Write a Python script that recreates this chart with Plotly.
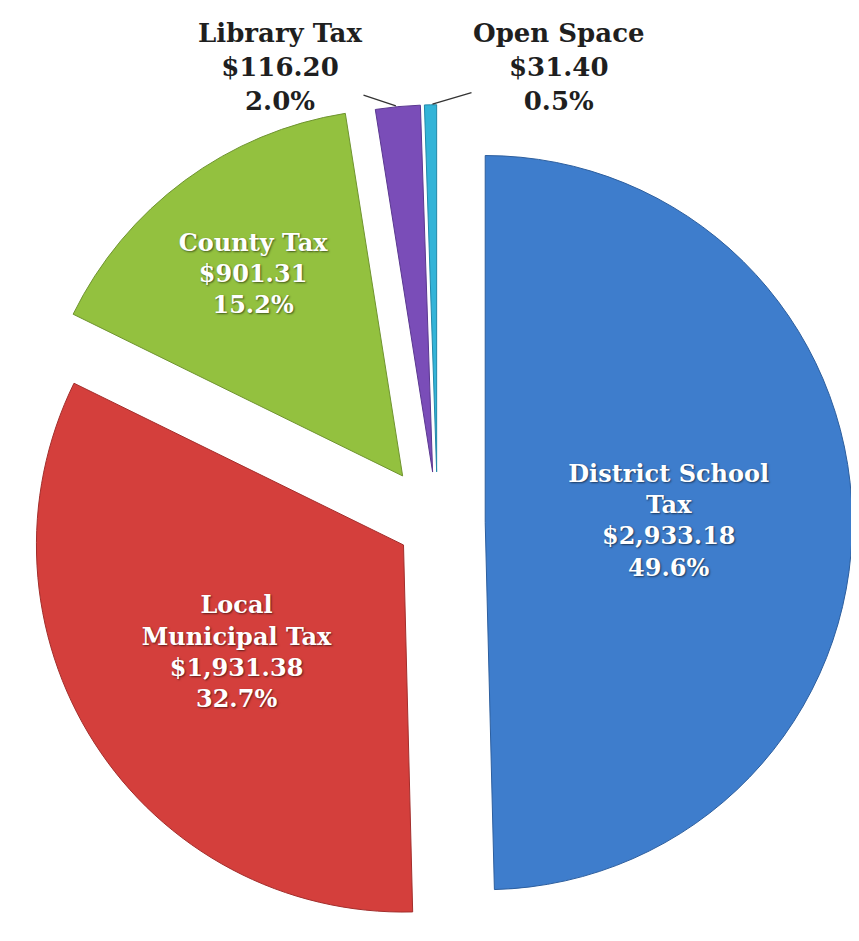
import math
import plotly.graph_objects as go

# ---- data ----
labels = ["District School Tax", "Local Municipal Tax", "County Tax", "Library Tax", "Open Space"]
display_labels = ["District School<br>Tax", "Local<br>Municipal Tax", "County Tax", "Library Tax", "Open Space"]
values = [2933.18, 1931.38, 901.31, 116.20, 31.40]
colors = ["#3E7DCC", "#D43F3C", "#93C13F", "#7A4DB8", "#33B4D8"]
line_colors = ["#2C5E9E", "#A32E2C", "#6F9430", "#5A3890", "#2288A8"]
pulls = [0.13, 0.11, 0.16, 0.14, 0.14]
inside = [True, True, True, False, False]
# label centre positions (pixels) for the two small slices
outside_label_pos = {3: (272, 59), 4: (551, 59)}

W, H = 859, 941
dom_y = [0.0, 0.905]
total = sum(values)

texts = []
for dl, v, ins in zip(display_labels, values, inside):
    texts.append(f"{dl}<br>${v:,.2f}<br>{v/total:.1%}" if ins else "")

fig = go.Figure(go.Pie(
    labels=labels,
    values=values,
    text=texts,
    textinfo="text",
    textposition=["inside" if i else "none" for i in inside],
    insidetextorientation="horizontal",
    sort=False,
    direction="clockwise",
    rotation=0,
    pull=pulls,
    marker=dict(colors=colors, line=dict(color=line_colors, width=1)),
    textfont=dict(family="DejaVu Serif", size=24, color="white", weight="bold",
                  shadow="1px 1px 2px rgba(0,0,0,0.55)"),
    domain=dict(x=[0, 1], y=dom_y),
    hoverinfo="skip",
    showlegend=False,
))

# geometry replicating plotly's pie layout, used to anchor leader lines
boxW, boxH = W, H * (dom_y[1] - dom_y[0])
r = min(boxW, boxH) / (2 + 2 * max(pulls))
cx = W / 2
cy = H * (1 - dom_y[0]) - boxH / 2

annotations = []
cum = 0.0
for i, v in enumerate(values):
    mid = (cum + v / 2) / total * 2 * math.pi
    cum += v
    if i in outside_label_pos:
        k = (1 + pulls[i]) * r
        px = cx + k * math.sin(mid)
        py = cy - k * math.cos(mid)
        lx, ly = outside_label_pos[i]
        annotations.append(dict(
            x=px / W, y=1 - py / H, xref="paper", yref="paper",
            text=f"{display_labels[i]}<br>${values[i]:,.2f}<br>{values[i]/total:.1%}",
            showarrow=True, arrowhead=0, arrowwidth=1.3, arrowcolor="#333333",
            ax=lx - px, ay=ly - py, standoff=2,
            font=dict(family="DejaVu Serif", size=26, color="#1f1f1f", weight="bold"),
            align="center",
        ))

fig.update_layout(
    width=W, height=H,
    margin=dict(l=0, r=0, t=0, b=0),
    paper_bgcolor="white",
    plot_bgcolor="white",
    annotations=annotations,
)

fig.write_html("out.html")
